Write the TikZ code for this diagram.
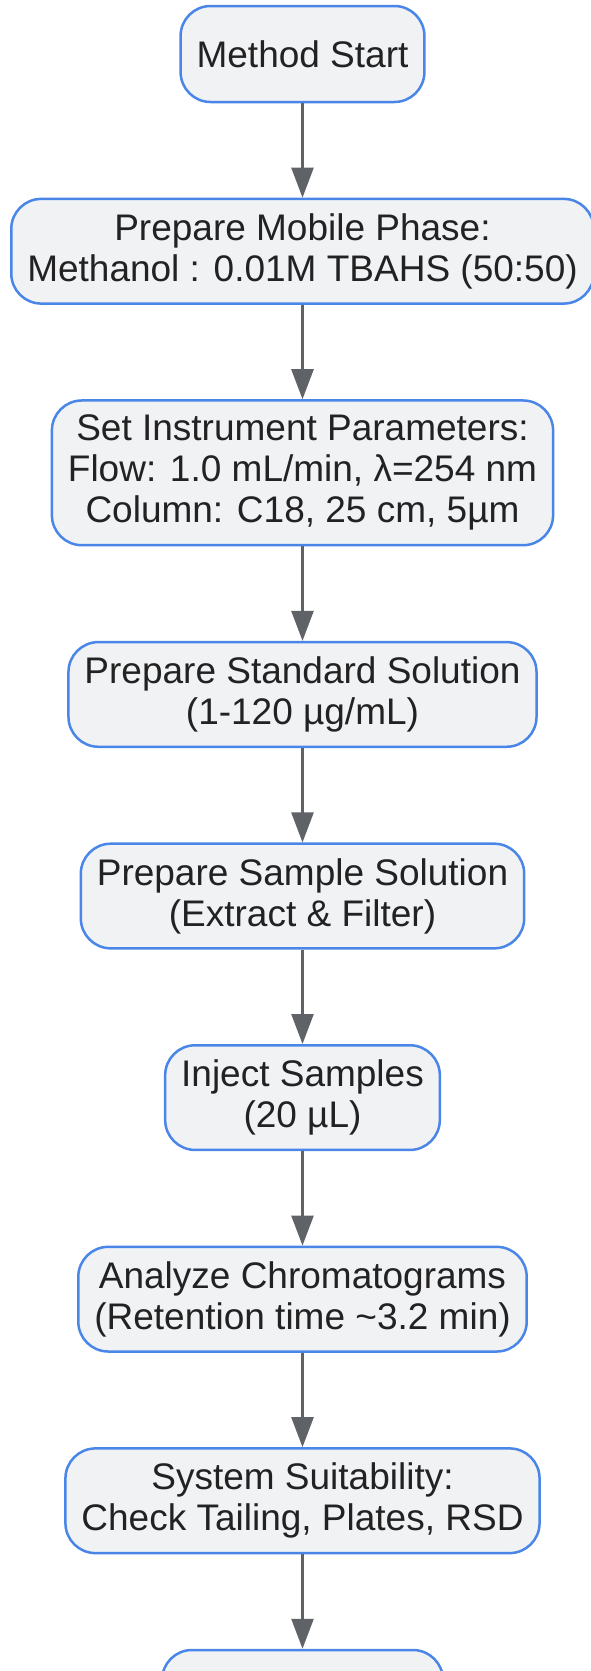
\documentclass[tikz,border=0pt]{standalone}
\usepackage{fontspec}
\setmainfont{Liberation Sans}
\usetikzlibrary{arrows.meta,positioning}

\definecolor{stepfill}{HTML}{F1F2F4}
\definecolor{stepline}{HTML}{4A86E8}
\definecolor{flowgray}{HTML}{5F6368}
\definecolor{textgray}{HTML}{222222}

\tikzset{
  stepbox/.style={draw=stepline, fill=stepfill, line width=2.5pt,
    rounded corners=30pt, align=center, text=textgray,
    font=\fontsize{37pt}{41pt}\selectfont,
    inner xsep=16pt, inner ysep=14.6pt, minimum height=96pt},
  flow/.style={draw=flowgray, line width=2.6pt,
    -{Triangle[width=22pt,length=30pt]}}
}

\begin{document}
\begin{tikzpicture}[x=1pt, y=1pt, node distance=94.4pt]
        \useasboundingbox (0,0) rectangle (590,-1671);

        \node[stepbox] (start) at (302.5,-54) {Method Start};
        \node[stepbox, below=of start] (phase) {Prepare Mobile Phase:\\Methanol : 0.01M TBAHS (50:50)};
        \node[stepbox, below=of phase] (params) {Set Instrument Parameters:\\Flow: 1.0 mL/min, λ=254 nm\\Column: C18, 25 cm, 5µm};
        \node[stepbox, below=of params] (std) {Prepare Standard Solution\\(1-120 µg/mL)};
        \node[stepbox, below=of std] (smp) {Prepare Sample Solution\\(Extract \& Filter)};
        \node[stepbox, below=of smp] (inj) {Inject Samples\\(20 µL)};
        \node[stepbox, below=of inj] (chrom) {Analyze Chromatograms\\(Retention time \textasciitilde3.2 min)};
        \node[stepbox, below=of chrom] (suit) {System Suitability:\\Check Tailing, Plates, RSD};
        \node[stepbox, below=of suit, minimum width=281pt, minimum height=106pt] (next) {};

        \foreach \a/\b in {start/phase, phase/params, params/std, std/smp,
                           smp/inj, inj/chrom, chrom/suit, suit/next}
          \draw[flow] (\a) -- (\b);
\end{tikzpicture}
\end{document}
